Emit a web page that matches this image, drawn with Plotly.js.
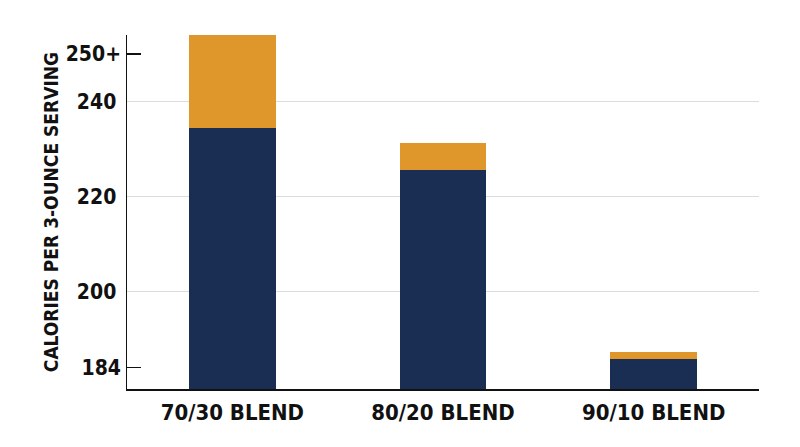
<!DOCTYPE html>
<html>
<head>
<meta charset="utf-8">
<script src="https://cdn.plot.ly/plotly-3.0.1.min.js"></script>
<style>html,body{margin:0;padding:0;background:#fff;}#chart{width:800px;height:447px;}</style>
</head>
<body>
<div id="chart"></div>
<script>
const categories = ["70/30 BLEND", "80/20 BLEND", "90/10 BLEND"];
const leanTop = [234.5, 225.6, 185.8];
const totalTop = [254, 231.2, 187.3];
const gridTicks = [200, 220, 240];
const gridTickText = ["200", "220", "240"];
const edgeTicks = [184, 250];
const edgeTickText = ["184", "250+"];
const yTitle = "CALORIES PER 3-OUNCE SERVING";

const fontFam = "'DejaVu Sans Condensed', 'Liberation Sans Narrow', Roboto, sans-serif";
const navy = "#1a2e53";
const orange = "#df962b";
const yRange = [179.5, 254];

const extra = totalTop.map((t, i) => t - leanTop[i]);

const traces = [
  {type: "bar", x: categories, y: leanTop, marker: {color: navy}, width: 0.41, hoverinfo: "skip"},
  {type: "bar", x: categories, y: extra, marker: {color: orange}, width: 0.41, hoverinfo: "skip"},
  {type: "scatter", x: [categories[0]], y: [edgeTicks[0]], yaxis: "y2", mode: "markers",
   marker: {opacity: 0}, hoverinfo: "skip", showlegend: false}
];

const layout = {
  width: 800, height: 447,
  margin: {l: 127, r: 41, t: 35, b: 58},
  paper_bgcolor: "#fff", plot_bgcolor: "#fff",
  barmode: "stack",
  showlegend: false,
  font: {family: fontFam, color: "#111"},
  xaxis: {
    range: [-0.5, 2.5],
    showline: true, linecolor: "#111", linewidth: 1.5,
    showgrid: false, ticks: "",
    ticklabelstandoff: 3,
    tickfont: {size: 22, family: fontFam, weight: "bold", color: "#111"},
    fixedrange: true
  },
  yaxis: {
    range: yRange,
    tickvals: gridTicks, ticktext: gridTickText,
    showgrid: true, gridcolor: "#dcdcdc", gridwidth: 1,
    showline: true, linecolor: "#111", linewidth: 1.5,
    ticks: "", zeroline: false,
    ticklabelstandoff: 5,
    tickfont: {size: 21, family: fontFam, weight: "bold", color: "#111"},
    fixedrange: true
  },
  yaxis2: {
    overlaying: "y", side: "left",
    range: yRange,
    tickvals: edgeTicks, ticktext: edgeTickText,
    showgrid: false, zeroline: false, showline: false,
    ticks: "inside", ticklen: 14, tickwidth: 1.5, tickcolor: "#111",
    ticklabelposition: "outside",
    ticklabelstandoff: 5,
    tickfont: {size: 21, family: fontFam, weight: "bold", color: "#111"},
    fixedrange: true
  },
  annotations: [{
    text: yTitle, xref: "paper", yref: "paper",
    x: -0.12, y: 0.5, textangle: -90, showarrow: false,
    xanchor: "center", yanchor: "middle",
    font: {size: 19, family: fontFam, weight: "bold", color: "#111"}
  }]
};

Plotly.newPlot("chart", traces, layout, {displayModeBar: false, staticPlot: true});
</script>
</body>
</html>
